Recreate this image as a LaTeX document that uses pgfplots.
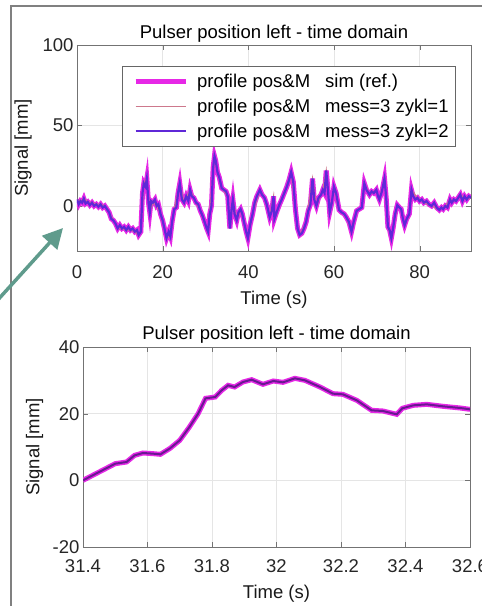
\documentclass[border=0pt]{standalone}
\usepackage{fontspec}
\setmainfont{Liberation Sans}
\usepackage{pgfplots}
\pgfplotsset{compat=1.18}
\usetikzlibrary{arrows.meta}

\definecolor{simcol}{RGB}{230,40,230}
\definecolor{m1col}{RGB}{205,120,140}
\definecolor{m2col}{RGB}{95,40,215}
\definecolor{m2dark}{RGB}{105,25,145}
\definecolor{frame}{RGB}{128,128,128}
\definecolor{arrowcol}{RGB}{95,155,140}

\newcommand{\fs}{\fontsize{18.5}{22}\selectfont}

\pgfplotsset{
  matlab/.style={
    scale only axis,
    axis line style={black!55},
    tick style={black!55, major tick length=5pt},
    grid=major,
    grid style={black!10},
    tick align=inside,
    xtick pos=both, ytick pos=both,
    tick label style={font=\fs, text=black!85},
    /pgf/number format/assume math mode=true,
    label style={font=\fs, text=black!90},
    title style={font=\fs, at={(0.5,1)}, anchor=base},
    legend cell align=left,
  },
}

\begin{document}
\begin{tikzpicture}[x=1pt,y=1pt]

\begin{axis}[matlab,
  at={(77pt,355pt)}, anchor=south west,
  width=394pt, height=206pt,
  xmin=0, xmax=92, ymin=-28, ymax=100,
  xtick={0,20,40,60,80}, ytick={0,50,100},
  xticklabel style={anchor=base, yshift=-28pt},
  title={Pulser position left - time domain},
  xlabel={Time (s)}, ylabel={Signal [mm]},
  xlabel style={at={(axis description cs:0.5,0)}, anchor=base, yshift=-54pt},
  ylabel style={at={(axis description cs:-0.137,0.5)}, anchor=center},
  legend style={at={(axis description cs:0.114,0.900)}, anchor=north west,
    draw=black!60, fill=white, font=\fs, row sep=6pt,
    inner xsep=5pt, inner ysep=6pt, nodes={inner sep=2pt}},
  legend image code/.code={\path (0pt,0pt) (63pt,0pt);
    \draw[#1] (6pt,0pt) -- (56pt,0pt);},
]
\addplot[simcol, line width=5pt] table {
t y
0 4
0.4 1
0.8 3
1.2 2
1.6 4.5
2.0 1.5
2.5 2.5
3.0 0.5
3.5 2
4.0 0
4.5 1
5.0 -0.5
5.5 1
6.0 -1
6.5 0
7.0 -2
7.5 -4
8.0 -8
8.5 -9
9.0 -11
9.5 -14
10.0 -12
10.5 -14
11.0 -13
11.5 -15
12.0 -13
12.5 -15
13.0 -14
13.5 -16
14.0 -15
14.4 -18
14.9 -16
15.3 8
15.6 14
16.0 12
16.3 17
16.7 2
17.0 -4
17.3 3
17.7 2
18.2 4
18.6 0
19.0 1
19.5 -5
20.0 -9
20.5 -15
20.9 -20
21.4 -16
21.8 -19
22.2 -10
22.7 -2
23.2 -1
23.6 8
24.0 14
24.5 4
25.0 2
25.5 6
26.0 3
26.4 10
26.8 6
27.3 5
27.8 2
28.3 1
28.8 -3
29.3 -6
29.8 -10
30.3 -14
30.6 -16
31.0 -5
31.4 0
31.8 24
32.1 31
32.4 28
32.8 21
33.2 18
33.8 11
34.3 10
34.8 9
35.2 6
35.7 -14
36.1 -2
36.4 4
36.8 -5
37.3 -9
37.7 -4
38.2 -2
38.6 -5
39.0 -10
39.5 -16
39.9 -20
40.4 -12
41.0 -5
41.5 2
42.0 6
42.7 10
43.2 7
43.8 5
44.3 1
45.0 -7
45.5 -3
45.9 6
46.1 -8
46.6 -4
47.3 1
47.8 4
48.4 8
49.0 12
49.5 16
50.0 21
50.5 15
51.0 -2
51.5 -14
52.0 -18
52.5 -17
53.0 -14
53.5 -10
54.0 -3
54.5 1
55.0 17
55.4 4
55.9 0
56.4 5
57.0 7
57.4 10
57.8 8
58.2 22
58.6 10
59.0 -4
59.5 2
60.0 12
60.5 8
61.2 -2.5
61.8 -4
62.4 -5
62.9 -7
63.5 -10
64.1 -16
64.6 -10
65.3 -3
65.9 -2
66.5 -1
67.1 14
67.6 10
68.3 7
68.8 9
69.3 8
69.9 10
70.3 6
70.6 4
71.2 9
71.8 17
72.2 5
72.6 -13
73.0 -15
73.4 -20
73.8 -14
74.3 -5
74.8 0.5
75.3 -1
75.7 -2
76.1 -8
76.5 -12
77.0 -8
77.6 -5
78.1 10
78.5 6
79.0 4
79.5 5
80.0 3
80.5 4
81.0 2
81.6 3
82.2 1
82.8 0
83.4 2
84.0 -1
84.6 -2.5
85.1 -1
85.5 -2
86.0 0
86.5 -1
87.1 4
87.5 2
88.0 4
88.5 3
89.0 5
89.5 7
90.0 3
90.5 6
91.0 4
91.5 6
92.0 5
};
\addlegendentry{profile pos\&M\hspace{15pt}sim (ref.)}
\addplot[m1col, line width=1.2pt] table {
t y
0 4
0.8 3
1.6 4.5
2.5 2.5
3.5 2
4.5 1
5.5 1
6.5 0
7.5 -4
8.5 -9
9.5 -14
10.5 -14
11.5 -15
12.5 -15
13.5 -16
14.4 -18
14.9 -16
15.6 14
16.3 17
17.0 -4
17.7 2
18.6 0
19.5 -5
20.5 -15
20.9 -20
21.8 -19
22.7 -2
24.0 14
25.0 2
26.4 10
27.8 2
28.8 -3
30.6 -16
32.1 31
32.8 21
33.8 11
35.2 6
35.7 -14
36.4 4
37.3 -9
38.2 -2
39.9 -20
41.0 -5
42.7 10
43.8 5
45.0 -7
45.9 6
46.1 -8
47.3 1
48.4 8
50.0 21
51.5 -14
52.0 -18
53.5 -10
55.0 17
55.9 0
57.4 10
58.2 22
59.0 -4
60.0 12
61.2 -2.5
62.9 -7
64.1 -16
65.3 -3
66.5 -1
67.1 14
68.3 7
69.9 10
70.6 4
71.8 17
72.6 -13
73.4 -20
74.8 0.5
75.7 -2
76.5 -12
77.6 -5
78.1 10
79.5 5
81.0 2
82.8 0
84.6 -2.5
86.0 0
87.1 4
88.5 3
89.5 7
91.0 4
92.0 5
};
\addlegendentry{profile pos\&M\hspace{15pt}mess=3 zykl=1}
\addplot[m2col, line width=2.2pt] table {
t y
0 4
0.4 1
0.8 3
1.2 2
1.6 4.5
2.0 1.5
2.5 2.5
3.0 0.5
3.5 2
4.0 0
4.5 1
5.0 -0.5
5.5 1
6.0 -1
6.5 0
7.0 -2
7.5 -4
8.0 -8
8.5 -9
9.0 -11
9.5 -14
10.0 -12
10.5 -14
11.0 -13
11.5 -15
12.0 -13
12.5 -15
13.0 -14
13.5 -16
14.0 -15
14.4 -18
14.9 -16
15.3 8
15.6 14
16.0 12
16.3 17
16.7 2
17.0 -4
17.3 3
17.7 2
18.2 4
18.6 0
19.0 1
19.5 -5
20.0 -9
20.5 -15
20.9 -20
21.4 -16
21.8 -19
22.2 -10
22.7 -2
23.2 -1
23.6 8
24.0 14
24.5 4
25.0 2
25.5 6
26.0 3
26.4 10
26.8 6
27.3 5
27.8 2
28.3 1
28.8 -3
29.3 -6
29.8 -10
30.3 -14
30.6 -16
31.0 -5
31.4 0
31.8 24
32.1 31
32.4 28
32.8 21
33.2 18
33.8 11
34.3 10
34.8 9
35.2 6
35.7 -14
36.1 -2
36.4 4
36.8 -5
37.3 -9
37.7 -4
38.2 -2
38.6 -5
39.0 -10
39.5 -16
39.9 -20
40.4 -12
41.0 -5
41.5 2
42.0 6
42.7 10
43.2 7
43.8 5
44.3 1
45.0 -7
45.5 -3
45.9 6
46.1 -8
46.6 -4
47.3 1
47.8 4
48.4 8
49.0 12
49.5 16
50.0 21
50.5 15
51.0 -2
51.5 -14
52.0 -18
52.5 -17
53.0 -14
53.5 -10
54.0 -3
54.5 1
55.0 17
55.4 4
55.9 0
56.4 5
57.0 7
57.4 10
57.8 8
58.2 22
58.6 10
59.0 -4
59.5 2
60.0 12
60.5 8
61.2 -2.5
61.8 -4
62.4 -5
62.9 -7
63.5 -10
64.1 -16
64.6 -10
65.3 -3
65.9 -2
66.5 -1
67.1 14
67.6 10
68.3 7
68.8 9
69.3 8
69.9 10
70.3 6
70.6 4
71.2 9
71.8 17
72.2 5
72.6 -13
73.0 -15
73.4 -20
73.8 -14
74.3 -5
74.8 0.5
75.3 -1
75.7 -2
76.1 -8
76.5 -12
77.0 -8
77.6 -5
78.1 10
78.5 6
79.0 4
79.5 5
80.0 3
80.5 4
81.0 2
81.6 3
82.2 1
82.8 0
83.4 2
84.0 -1
84.6 -2.5
85.1 -1
85.5 -2
86.0 0
86.5 -1
87.1 4
87.5 2
88.0 4
88.5 3
89.0 5
89.5 7
90.0 3
90.5 6
91.0 4
91.5 6
92.0 5
};
\addlegendentry{profile pos\&M\hspace{15pt}mess=3 zykl=2}
\end{axis}

\begin{axis}[matlab,
  at={(83pt,59pt)}, anchor=south west,
  width=387pt, height=200pt,
  xmin=31.4, xmax=32.6, ymin=-20, ymax=40,
  xtick={31.4,31.6,31.8,32,32.2,32.4,32.6}, ytick={-20,0,20,40},
  xticklabel style={/pgf/number format/fixed, /pgf/number format/precision=1,
    anchor=base, yshift=-26pt},
  title style={yshift=2pt},
  title={Pulser position left - time domain},
  xlabel={Time (s)}, ylabel={Signal [mm]},
  xlabel style={at={(axis description cs:0.5,0)}, anchor=base, yshift=-52pt},
  ylabel style={at={(axis description cs:-0.125,0.5)}, anchor=center},
]
\addplot[simcol, line width=5pt] table {
t y
31.40 0
31.45 2.5
31.50 5
31.535 5.5
31.56 7.5
31.586 8.2
31.617 8
31.64 7.8
31.67 9.6
31.70 12
31.73 16
31.757 20
31.78 24.6
31.81 25
31.83 27
31.85 28.5
31.87 28
31.896 29.5
31.923 30.2
31.958 28.8
31.99 29.8
32.02 29.4
32.057 30.6
32.088 30
32.135 28
32.175 26
32.206 25.8
32.249 24
32.295 21
32.33 20.8
32.373 19.8
32.39 21.6
32.424 22.5
32.466 22.8
32.517 22.2
32.57 21.7
32.6 21.3
};
\addplot[m2dark, line width=2pt] table {
t y
31.40 0
31.45 2.5
31.50 5
31.535 5.5
31.56 7.5
31.586 8.2
31.617 8
31.64 7.8
31.67 9.6
31.70 12
31.73 16
31.757 20
31.78 24.6
31.81 25
31.83 27
31.85 28.5
31.87 28
31.896 29.5
31.923 30.2
31.958 28.8
31.99 29.8
32.02 29.4
32.057 30.6
32.088 30
32.135 28
32.175 26
32.206 25.8
32.249 24
32.295 21
32.33 20.8
32.373 19.8
32.39 21.6
32.424 22.5
32.466 22.8
32.517 22.2
32.57 21.7
32.6 21.3
};
\end{axis}

% surrounding frame and pointer arrow
\draw[frame, line width=2pt] (10.5,-20) -- (10.5,600) -- (520,600);
\draw[arrowcol, line width=3.5pt, -{Triangle[length=20pt,width=20pt]}] (-5,303) -- (63,378);

\pgfresetboundingbox
\useasboundingbox (0,0) rectangle (482,606);
\end{tikzpicture}
\end{document}
